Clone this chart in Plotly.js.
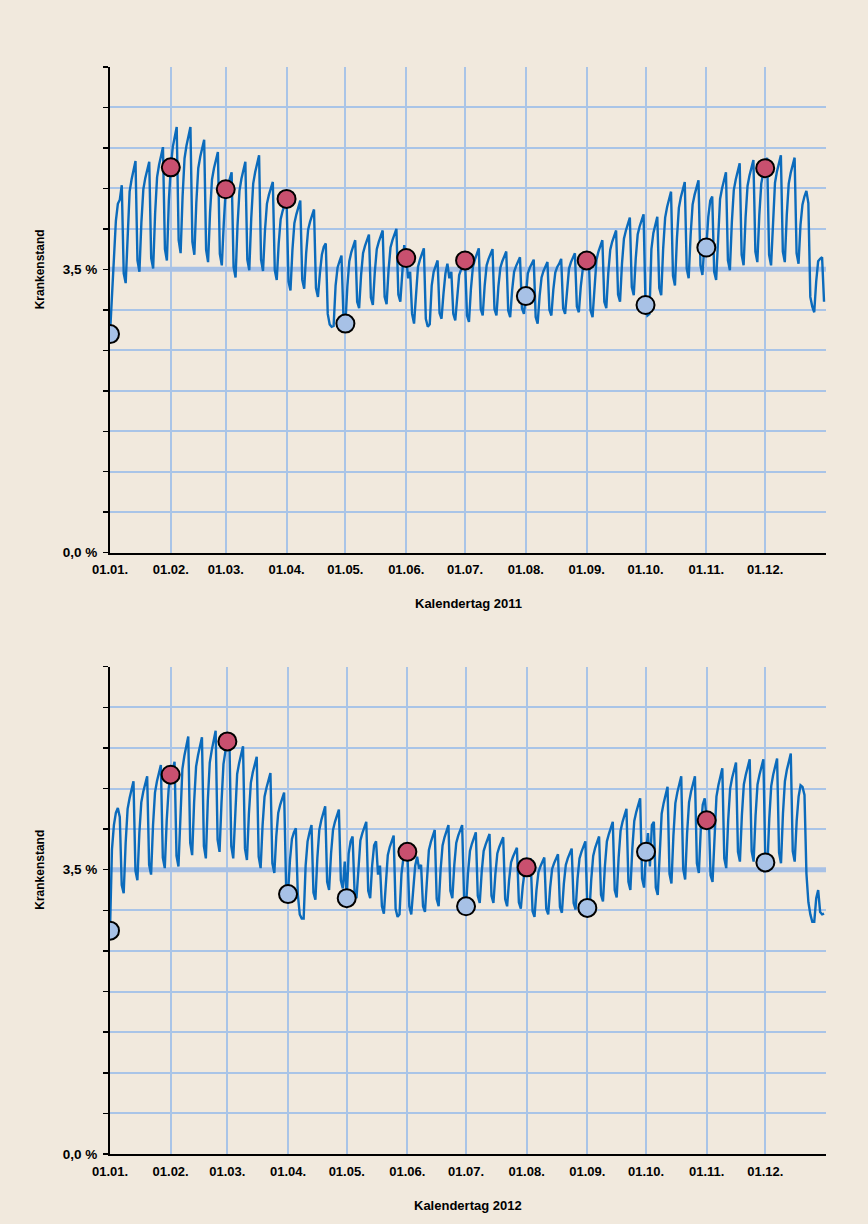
<!DOCTYPE html>
<html>
<head>
<meta charset="utf-8">
<script src="https://cdn.plot.ly/plotly-3.0.1.min.js"></script>
<style>html,body{margin:0;padding:0;background:#F1E9DD;}</style>
</head>
<body>
<div id="chart" style="width:868px;height:1224px;"></div>
<script>
// Daily sick-leave rate (%) 2011, starting Sat 01.01.2011
const days2011 = [
 2.70,3.20,
 3.72,4.10,4.31,4.36,4.54,3.45,3.33,
 4.01,4.46,4.61,4.72,4.84,3.61,3.47,
 4.08,4.49,4.63,4.72,4.83,3.64,3.51,
 4.19,4.64,4.79,4.89,5.01,3.75,3.61,
 4.35,4.76,5.01,5.13,5.26,3.86,3.70,
 4.40,4.87,5.03,5.14,5.26,3.84,3.68,
 4.32,4.75,4.89,4.99,5.10,3.74,3.59,
 4.20,4.61,4.75,4.84,4.95,3.69,3.55,
 4.07,4.49,4.53,4.61,4.70,3.53,3.40,
 4.04,4.47,4.62,4.72,4.83,3.62,3.49,
 4.13,4.56,4.70,4.80,4.91,3.62,3.48,
 3.98,4.31,4.42,4.49,4.58,3.49,3.37,
 3.82,4.12,4.22,4.29,4.37,3.35,3.24,
 3.74,4.07,4.18,4.26,4.35,3.37,3.26,
 3.70,3.99,4.09,4.16,4.24,3.27,3.16,
 3.45,3.68,3.78,3.82,2.95,2.82,2.79,
 2.80,3.30,3.52,3.60,3.67,2.92,2.83,
 3.29,3.60,3.71,3.78,3.86,3.10,3.02,
 3.43,3.70,3.79,3.86,3.93,3.15,3.06,
 3.47,3.75,3.84,3.91,3.98,3.16,3.07,
 3.49,3.77,3.86,3.93,4.00,3.19,3.10,
 3.45,3.80,3.64,3.39,3.47,2.95,2.83,
 3.25,3.53,3.62,3.69,3.76,2.89,2.79,
 2.82,3.30,3.47,3.55,3.61,2.96,2.89,
 3.20,3.45,3.57,3.39,3.47,2.95,2.87,
 3.20,3.43,3.50,3.55,3.61,2.93,2.85,
 3.26,3.53,3.62,3.69,3.76,3.01,2.93,
 3.30,3.55,3.63,3.68,3.75,3.01,2.93,
 3.29,3.52,3.60,3.66,3.72,2.99,2.91,
 3.24,3.47,3.54,3.59,3.65,3.02,2.95,
 3.17,3.45,3.52,3.57,3.62,2.91,2.83,
 3.17,3.40,3.48,3.53,3.59,3.00,2.93,
 3.25,3.46,3.53,3.57,3.63,3.02,2.95,
 3.29,3.51,3.59,3.64,3.70,3.04,2.97,
 3.29,3.50,3.57,3.61,3.68,2.99,2.91,
 3.34,3.62,3.72,3.78,3.86,3.10,3.02,
 3.45,3.74,3.84,3.90,3.98,3.19,3.10,
 3.57,3.88,3.98,4.06,4.14,3.28,3.18,
 3.63,3.93,4.03,4.10,4.18,3.06,2.93,
 2.95,3.75,3.95,4.06,4.15,3.27,3.18,
 3.76,4.14,4.27,4.36,4.46,3.42,3.30,
 3.88,4.26,4.39,4.48,4.58,3.51,3.39,
 3.93,4.30,4.42,4.50,4.60,3.55,3.43,
 3.80,3.77,4.15,4.35,4.40,3.47,3.37,
 3.97,4.37,4.50,4.59,4.70,3.61,3.49,
 4.08,4.48,4.61,4.70,4.81,3.68,3.55,
 4.14,4.53,4.66,4.75,4.85,3.72,3.59,
 4.17,4.56,4.69,4.75,4.88,3.68,3.55,
 4.16,4.57,4.71,4.80,4.91,3.72,3.59,
 4.17,4.56,4.69,4.78,4.88,3.70,3.57,
 4.05,4.30,4.40,4.47,4.32,3.16,3.04,
 2.97,3.35,3.60,3.63,3.65,3.10
];
// Daily sick-leave rate (%) 2012, starting Sun 01.01.2012
const days2012 = [
 2.75,
 3.75,4.05,4.20,4.26,4.15,3.31,3.21,
 3.83,4.25,4.38,4.48,4.59,3.49,3.37,
 3.95,4.33,4.46,4.55,4.65,3.56,3.44,
 4.05,4.45,4.59,4.68,4.79,3.65,3.52,
 4.11,4.50,4.67,4.73,4.83,3.67,3.54,
 4.26,4.74,4.90,5.01,5.14,3.83,3.68,
 4.33,4.77,4.91,5.01,5.13,3.79,3.64,
 4.35,4.82,4.97,5.08,5.21,3.87,3.72,
 4.33,4.80,4.96,5.08,5.15,3.79,3.64,
 4.26,4.68,4.81,4.91,5.02,3.76,3.62,
 4.19,4.57,4.70,4.79,4.89,3.66,3.52,
 4.05,4.40,4.51,4.60,4.69,3.58,3.46,
 3.91,4.20,4.30,4.37,4.45,3.32,3.20,
 3.62,3.88,3.96,4.01,3.20,2.95,2.90,
 2.90,3.55,3.85,3.96,4.05,3.22,3.13,
 3.65,3.99,4.11,4.19,4.28,3.35,3.25,
 3.70,3.99,4.09,4.16,4.24,3.37,3.27,
 3.60,3.15,3.70,3.85,3.91,3.24,3.15,
 3.57,3.86,3.95,4.01,4.09,3.24,3.15,
 3.55,3.80,3.85,3.44,3.55,3.05,2.96,
 3.39,3.68,3.78,3.84,3.92,3.02,2.92,
 2.95,3.45,3.65,3.79,3.72,3.05,2.95,
 3.30,3.55,3.66,3.51,3.56,3.05,2.98,
 3.43,3.74,3.84,3.91,3.99,3.14,3.05,
 3.50,3.80,3.90,3.97,4.05,3.24,3.15,
 3.56,3.83,3.92,3.98,4.05,3.15,3.05,
 3.46,3.73,3.82,3.89,3.96,3.18,3.09,
 3.47,3.73,3.81,3.87,3.94,3.18,3.09,
 3.45,3.70,3.78,3.84,3.90,3.14,3.05,
 3.37,3.59,3.66,3.71,3.77,3.10,3.02,
 3.30,3.49,3.53,3.59,3.64,2.99,2.92,
 3.25,3.47,3.54,3.59,3.65,3.02,2.95,
 3.28,3.51,3.58,3.63,3.69,3.04,2.97,
 3.33,3.56,3.64,3.70,3.76,3.09,3.01,
 3.39,3.64,3.72,3.78,3.85,3.03,2.95,
 3.38,3.67,3.77,3.83,3.91,3.19,3.11,
 3.55,3.85,3.94,4.01,4.09,3.25,3.16,
 3.65,3.98,4.09,4.16,4.25,3.35,3.25,
 3.76,4.10,4.21,4.29,4.38,3.39,3.28,
 3.72,3.95,3.54,4.05,4.09,3.28,3.19,
 3.79,4.19,4.32,4.41,4.52,3.45,3.33,
 3.92,4.32,4.45,4.54,4.65,3.51,3.38,
 3.95,4.33,4.46,4.55,4.65,3.58,3.46,
 4.00,4.30,4.38,4.11,4.22,3.43,3.35,
 3.98,4.40,4.54,4.64,4.75,3.64,3.52,
 4.11,4.50,4.63,4.72,4.82,3.72,3.60,
 4.17,4.55,4.67,4.76,4.86,3.73,3.60,
 4.17,4.55,4.67,4.76,4.86,3.59,3.52,
 4.13,4.53,4.67,4.76,4.87,3.71,3.58,
 4.19,4.59,4.73,4.82,4.93,3.73,3.60,
 4.10,4.40,4.54,4.52,4.42,3.45,3.10,
 2.95,2.86,2.86,3.15,3.25,2.98,2.95,
 2.96
];
// Value on the first day of each month (circles)
const first2011 = [2.70,4.76,4.49,4.37,2.83,3.64,3.61,3.17,3.61,3.06,3.77,4.75];
const firstColor2011 = ['b','r','r','r','b','r','r','b','r','b','b','r'];
const first2012 = [2.75,4.67,5.08,3.20,3.15,3.72,3.05,3.53,3.03,3.72,4.11,3.59];
const firstColor2012 = ['b','r','r','b','b','r','b','r','b','b','r','b'];
const average = 3.5;
const monthLabels = ['01.01.','01.02.','01.03.','01.04.','01.05.','01.06.','01.07.','01.08.','01.09.','01.10.','01.11.','01.12.'];
const yTickVals = [0,0.5,1,1.5,2,2.5,3,3.5,4,4.5,5,5.5,6];
const yTickText = ['0,0 %','','','','','','','3,5 %','','','','',''];
const xTitles = ['Kalendertag 2011','Kalendertag 2012'];
const yTitle = 'Krankenstand';

const BG = '#F1E9DD', GRID = '#A9C4E7', LINE = '#0B6BBC';
const RED = '#C9506F', BLUE = '#A7C1E6';
const FONT = 'Liberation Sans, Arial, Helvetica, sans-serif';

function pad(n){ return (n<10?'0':'')+n; }
function dates(year, n){
  const out=[];
  for(let i=0;i<n;i++){ const d=new Date(Date.UTC(year,0,1+i)); out.push(d.toISOString().slice(0,10)); }
  return out;
}
function monthStarts(year){
  const out=[]; for(let m=1;m<=12;m++) out.push(year+'-'+pad(m)+'-01'); return out;
}

const traces=[];
function addYear(year, vals, firsts, cols, xa, ya){
  traces.push({x:[year+'-01-01',(year+1)+'-01-01'], y:[average,average], xaxis:xa, yaxis:ya,
    mode:'lines', line:{color:'#A8C1E5', width:5}, hoverinfo:'skip'});
  traces.push({x:dates(year, vals.length), y:vals, xaxis:xa, yaxis:ya, mode:'lines',
    line:{color:LINE, width:2.4, shape:'linear'}, hoverinfo:'skip'});
  traces.push({x:monthStarts(year), y:firsts, xaxis:xa, yaxis:ya, mode:'markers',
    marker:{size:18, color:cols.map(c=>c==='r'?RED:BLUE), line:{color:'#000', width:2}}, hoverinfo:'skip'});
}
addYear(2011, days2011, first2011, firstColor2011, 'x', 'y');
addYear(2012, days2012, first2012, firstColor2012, 'x2', 'y2');

function xAxis(year, anchor){
  return {domain:[0,1], anchor:anchor, type:'date',
    range:[year+'-01-01',(year+1)+'-01-01'],
    tickmode:'array', tickvals:monthStarts(year).concat([(year+1)+'-01-01']), ticktext:monthLabels.concat(['']),
    showgrid:true, gridcolor:GRID, gridwidth:2,
    showline:true, linecolor:'#000', linewidth:2,
    ticks:'outside', ticklen:4, tickcolor:'rgba(0,0,0,0)',
    tickfont:{family:FONT, size:13, color:'#000', weight:'bold'},
    zeroline:false, fixedrange:true};
}
function yAxis(domain, anchor){
  return {domain:domain, anchor:anchor, range:[0,6],
    tickmode:'array', tickvals:yTickVals, ticktext:yTickText,
    showgrid:true, gridcolor:GRID, gridwidth:2,
    showline:true, linecolor:'#000', linewidth:2,
    ticks:'outside', ticklen:5, tickwidth:1.5, tickcolor:'#000',
    tickfont:{family:FONT, size:13.5, color:'#000', weight:'bold'},
    ticklabelstandoff:3,
    zeroline:false, fixedrange:true};
}

const layout = {
  width:868, height:1224,
  paper_bgcolor:BG, plot_bgcolor:BG,
  margin:{l:110, r:42, t:67, b:70},
  showlegend:false,
  font:{family:FONT, color:'#000'},
  xaxis: xAxis(2011,'y'),
  yaxis: yAxis([0.5532,1],'x'),
  xaxis2: xAxis(2012,'y2'),
  yaxis2: yAxis([0,0.4483],'x2'),
  annotations:[
    {text:xTitles[0], xref:'x domain', yref:'y domain', x:0.5, y:0, yshift:-51, yanchor:'middle', showarrow:false,
     font:{family:FONT, size:13, weight:'bold', color:'#000'}},
    {text:xTitles[1], xref:'x2 domain', yref:'y2 domain', x:0.5, y:0, yshift:-51, yanchor:'middle', showarrow:false,
     font:{family:FONT, size:13, weight:'bold', color:'#000'}},
    {text:yTitle, xref:'x domain', yref:'y', x:0, y:average, xshift:-70, xanchor:'center', yanchor:'middle', textangle:-90, showarrow:false,
     font:{family:FONT, size:12, weight:'bold', color:'#000'}},
    {text:yTitle, xref:'x2 domain', yref:'y2', x:0, y:average, xshift:-70, xanchor:'center', yanchor:'middle', textangle:-90, showarrow:false,
     font:{family:FONT, size:12, weight:'bold', color:'#000'}}
  ]
};
Plotly.newPlot('chart', traces, layout, {displayModeBar:false, staticPlot:true});
</script>
</body>
</html>
